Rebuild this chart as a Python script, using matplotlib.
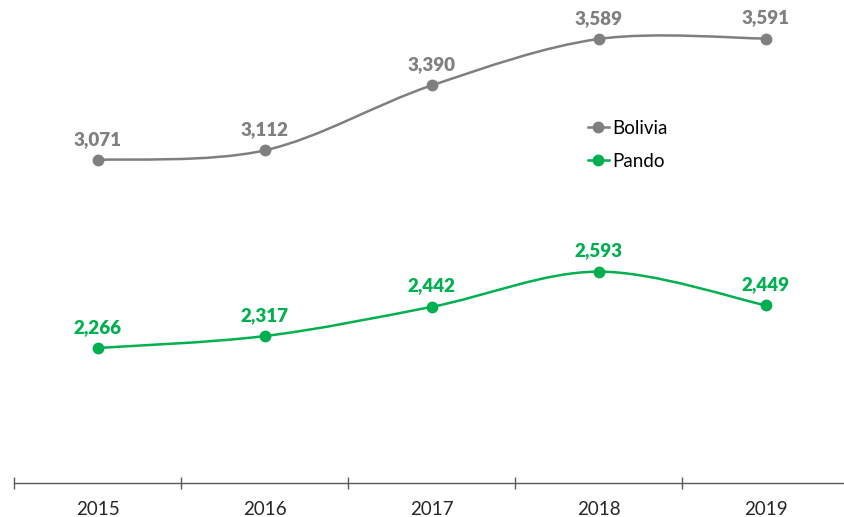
import numpy as np
import matplotlib
matplotlib.use("Agg")
from matplotlib import pyplot as plt
from matplotlib.path import Path
import matplotlib.patches as patches
from matplotlib.lines import Line2D

# Data
years = ["2015", "2016", "2017", "2018", "2019"]
bolivia = [3071, 3112, 3390, 3589, 3591]
pando = [2266, 2317, 2442, 2593, 2449]

gray = "#7F7F7F"
green = "#00B050"

plt.rcParams['font.family'] = ['Lato', 'DejaVu Sans']


def smooth_path(xs, ys):
    # Excel-like smoothing: cubic bezier with catmull-rom control points
    pts = np.column_stack([xs, ys]).astype(float)
    n = len(pts)
    verts = [pts[0]]
    codes = [Path.MOVETO]
    for i in range(n - 1):
        p0 = pts[i - 1] if i > 0 else pts[i]
        p1 = pts[i]
        p2 = pts[i + 1]
        p3 = pts[i + 2] if i + 2 < n else pts[i + 1]
        c1 = p1 + (p2 - p0) / 6.0
        c2 = p2 - (p3 - p1) / 6.0
        verts += [c1, c2, p2]
        codes += [Path.CURVE4] * 3
    return Path(verts, codes)


fig = plt.figure(figsize=(8.44, 5.17), dpi=100)
ax = fig.add_axes([14 / 844, 34 / 517, 835 / 844, 483 / 517])

x = np.arange(len(years))
for vals, col, name in [(bolivia, gray, "Bolivia"), (pando, green, "Pando")]:
    ax.add_patch(patches.PathPatch(smooth_path(x, vals), fill=False,
                                   edgecolor=col, lw=1.8, capstyle='round'))
    ax.plot(x, vals, 'o', color=col, markersize=7.5, zorder=3)
    for xi, v in zip(x, vals):
        ax.annotate(f"{v:,}", (xi, v), xytext=(0, 15), textcoords='offset points',
                    ha='center', va='center', fontsize=13.5, fontweight='heavy',
                    color=col)

ax.set_xlim(-0.5, 4.5)
ax.set_ylim(1688, 3756)

for s in ['top', 'right', 'left']:
    ax.spines[s].set_visible(False)
ax.spines['bottom'].set_color('#595959')
ax.spines['bottom'].set_linewidth(1.0)
ax.set_yticks([])
ax.set_xticks(np.arange(-0.5, 5, 1.0))
ax.set_xticklabels([])
ax.set_xticks(x, minor=True)
ax.set_xticklabels(years, minor=True, fontsize=13.5, color='#262626')
ax.tick_params(axis='x', which='major', direction='inout', length=9,
               width=1.0, color='#595959')
ax.tick_params(axis='x', which='minor', length=0, pad=13)

handles = [Line2D([], [], color=gray, marker='o', lw=1.8, markersize=7.5),
           Line2D([], [], color=green, marker='o', lw=1.8, markersize=7.5)]
ax.legend(handles, ["Bolivia", "Pando"], loc='upper left',
          bbox_to_anchor=(571 / 844, (517 - 103) / 517), bbox_transform=fig.transFigure,
          frameon=False, handlelength=1.1, handletextpad=0.2, labelspacing=0.85,
          fontsize=13.5)

fig.savefig("out.png", dpi=100)
